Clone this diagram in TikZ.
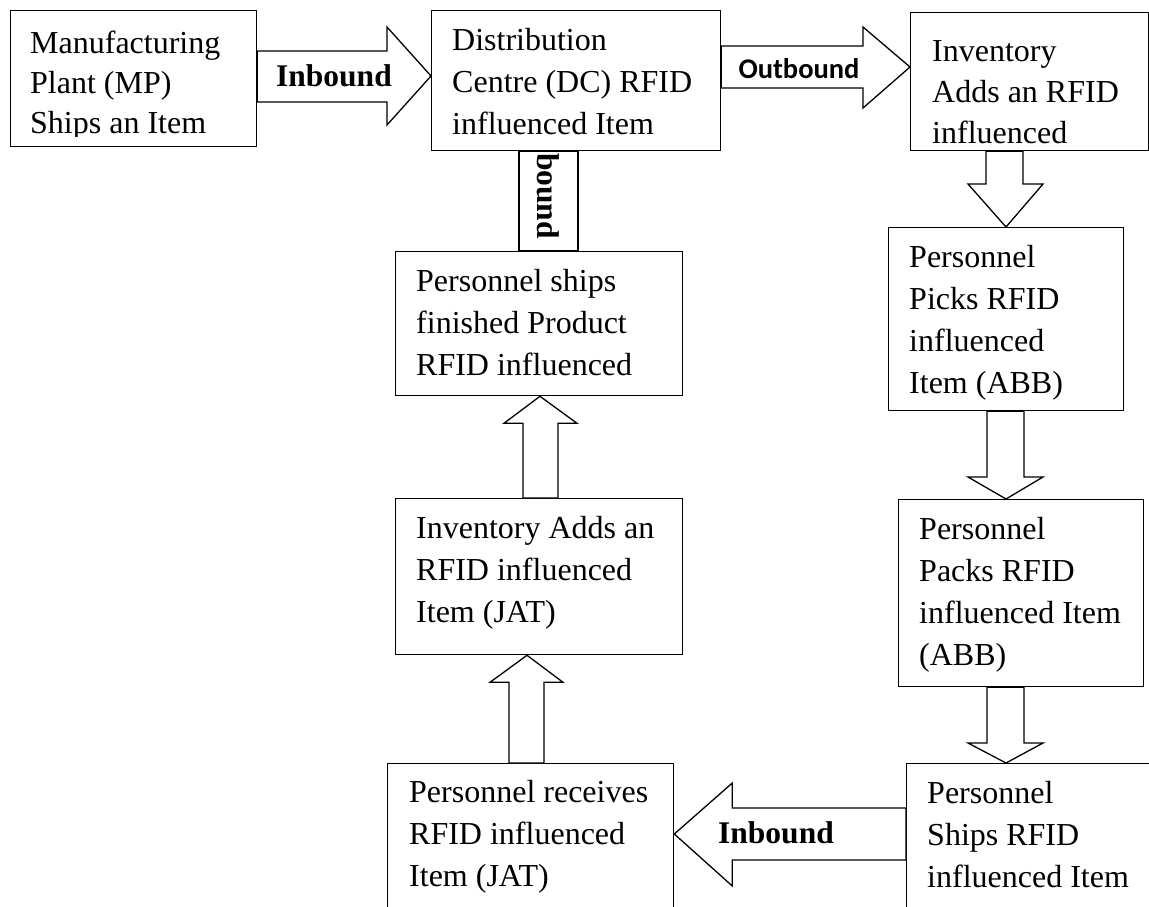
\documentclass[tikz,border=0pt]{standalone}
\usepackage{fontspec}
\setmainfont{Liberation Serif}
\newfontfamily\calibrifont{Carlito}
\usetikzlibrary{calc}
\begin{document}
\begin{tikzpicture}[x=1pt,y=1pt,
  box/.style={draw, line width=1.3pt, fill=white, inner sep=0pt, anchor=north west},
  txt/.style={anchor=north west, inner sep=0pt, align=left,
              font=\fontsize{32}{42}\selectfont},
  blk/.style={draw, line width=1.3pt, fill=white, line join=miter},
  lbl/.style={font=\fontsize{31.5}{31.5}\selectfont\bfseries, inner sep=0pt, anchor=base}]
\useasboundingbox (0,0) rectangle (1149,-907);
\clip (0,0) rectangle (1149,-907);
\fill[white] (0,0) rectangle (1149,-907);

% boxes
\node[box, minimum width=246pt, minimum height=136pt] (mp) at (10,-10) {};
\node[box, minimum width=289pt, minimum height=140pt] (dc) at (431,-10) {};
\node[box, minimum width=238pt, minimum height=138pt] (inv) at (910,-12) {};
\node[box, minimum width=235pt, minimum height=183pt] (picks) at (888,-227) {};
\node[box, minimum width=245pt, minimum height=187pt] (packs) at (898,-499) {};
\node[box, minimum width=300pt, minimum height=220pt] (ships) at (906,-763) {};
\node[box, minimum width=286pt, minimum height=220pt] (recv) at (387,-763) {};
\node[box, minimum width=287pt, minimum height=156pt] (jat) at (395,-498) {};
\node[box, minimum width=287pt, minimum height=144pt] (pships) at (395,-251) {};

% texts (top = first baseline - 0.7 baselineskip)
\begin{scope}
\clip (10,-10) rectangle (256,-136);
\node[txt, font=\fontsize{32}{40}\selectfont] (mpT) at (30,-25) {\strut Manufacturing\\Plant (MP)\\Ships an Item};
\end{scope}
\node[txt] (dcT) at (452,-20.6) {\strut Distribution\\Centre (DC) RFID\\influenced Item};
\node[txt, font=\fontsize{32}{41}\selectfont] (invT) at (932,-32.3) {\strut Inventory\\Adds an RFID\\influenced};
\node[txt] (picksT) at (909,-237.6) {\strut Personnel\\Picks RFID\\influenced\\Item (ABB)};
\node[txt] (packsT) at (919,-509.6) {\strut Personnel\\Packs RFID\\influenced Item\\(ABB)};
\node[txt] (shipsT) at (927,-773.6) {\strut Personnel\\Ships RFID\\influenced Item};
\node[txt] (recvT) at (409,-772.6) {\strut Personnel receives\\RFID influenced\\Item (JAT)};
\node[txt] (jatT) at (416,-508.6) {\strut Inventory Adds an\\RFID influenced\\Item (JAT)};
\node[txt] (pshipsT) at (416,-261.6) {\strut Personnel ships\\finished Product\\RFID influenced};

% block arrows
\draw[blk] let \p1=(mp.east), \p2=(dc.west) in
  (\x1,-51pt) -- (\x2-44pt,-51pt) -- (\x2-44pt,-27pt) -- (\x2,-76pt)
  -- (\x2-44pt,-125pt) -- (\x2-44pt,-102pt) -- (\x1,-102pt) -- cycle;
\node[lbl] (in1) at (334,-87) {Inbound};

\draw[blk] let \p1=(dc.east), \p2=(inv.west) in
  (\x1,-46pt) -- (\x2-47pt,-46pt) -- (\x2-47pt,-27pt) -- (\x2,-67pt)
  -- (\x2-47pt,-108pt) -- (\x2-47pt,-88pt) -- (\x1,-88pt) -- cycle;
\node[lbl, font=\calibrifont\fontsize{28.5}{28.5}\selectfont\bfseries] (out) at (799,-79) {Outbound};

\draw[blk] let \p1=(inv.south), \p2=(picks.north) in
  (986pt,\y1) -- (986pt,\y2+43pt) -- (968pt,\y2+43pt) -- (1006pt,\y2)
  -- (1043pt,\y2+43pt) -- (1023pt,\y2+43pt) -- (1023pt,\y1) -- cycle;

\draw[blk] let \p1=(picks.south), \p2=(packs.north) in
  (987pt,\y1) -- (987pt,\y2+22pt) -- (968pt,\y2+22pt) -- (1006pt,\y2)
  -- (1043pt,\y2+22pt) -- (1024pt,\y2+22pt) -- (1024pt,\y1) -- cycle;

\draw[blk] let \p1=(packs.south), \p2=(ships.north) in
  (987pt,\y1) -- (987pt,\y2+20pt) -- (968pt,\y2+20pt) -- (1006pt,\y2)
  -- (1043pt,\y2+20pt) -- (1024pt,\y2+20pt) -- (1024pt,\y1) -- cycle;

\draw[blk] let \p1=(ships.west), \p2=(recv.east) in
  (\x1,-808pt) -- (\x2+58pt,-808pt) -- (\x2+58pt,-783pt) -- (\x2,-834pt)
  -- (\x2+58pt,-886pt) -- (\x2+58pt,-860pt) -- (\x1,-860pt) -- cycle;
\node[lbl] (in2) at (776,-843) {Inbound};

\draw[blk] let \p1=(recv.north), \p2=(jat.south) in
  (509pt,\y1) -- (509pt,\y2-27pt) -- (490pt,\y2-27pt) -- (527pt,\y2)
  -- (563pt,\y2-27pt) -- (544pt,\y2-27pt) -- (544pt,\y1) -- cycle;

\draw[blk] let \p1=(jat.north), \p2=(pships.south) in
  (523pt,\y1) -- (523pt,\y2-27pt) -- (504pt,\y2-27pt) -- (540pt,\y2)
  -- (577pt,\y2-27pt) -- (558pt,\y2-27pt) -- (558pt,\y1) -- cycle;

\draw[blk] let \p1=(pships.north), \p2=(dc.south) in
  (519pt,\y1) -- (519pt,\y2) -- (578pt,\y2) -- (578pt,\y1) -- cycle;
\node[lbl, rotate=-90, anchor=west] (bd) at (548,-153) {bound};
\end{tikzpicture}
\end{document}
